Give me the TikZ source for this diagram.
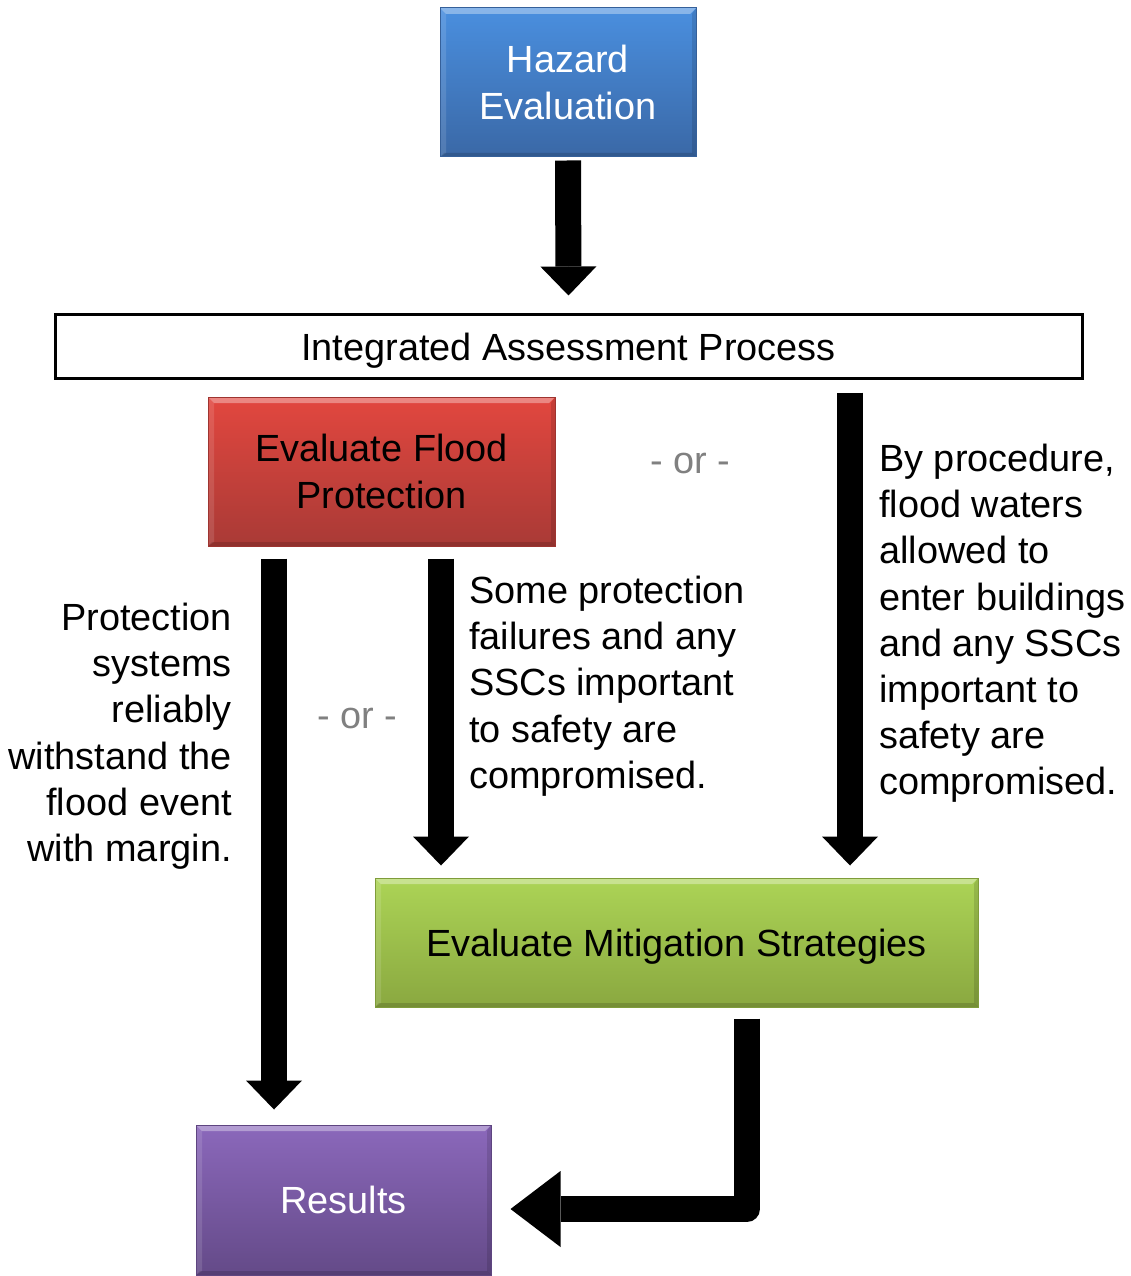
\documentclass[tikz,border=0pt]{standalone}
\usepackage{fontspec}
\setmainfont{Liberation Sans}
\usetikzlibrary{arrows.meta,calc}
\definecolor{bluetop}{HTML}{4A8FDF}
\definecolor{bluebot}{HTML}{3A68A6}
\definecolor{blueedge}{HTML}{35609A}
\definecolor{redtop}{HTML}{E2473F}
\definecolor{redbot}{HTML}{A93A36}
\definecolor{rededge}{HTML}{9E3430}
\definecolor{greentop}{HTML}{ACD456}
\definecolor{greenbot}{HTML}{8AA840}
\definecolor{greenedge}{HTML}{7F9C3A}
\definecolor{purptop}{HTML}{8B68BB}
\definecolor{purpbot}{HTML}{644A88}
\definecolor{purpedge}{HTML}{5E4580}
\definecolor{orgray}{HTML}{808080}
\tikzset{
  txt/.style={font=\fontsize{28.4}{34.6}\selectfont, inner sep=0pt},
  bevel/.style={path picture={
    \coordinate (bnw) at (path picture bounding box.north west);
    \coordinate (bne) at (path picture bounding box.north east);
    \coordinate (bsw) at (path picture bounding box.south west);
    \coordinate (bse) at (path picture bounding box.south east);
    \fill[white,opacity=0.35] (bnw) -- (bne) -- ($(bne)+(-6,6)$) -- ($(bnw)+(6,6)$) -- cycle;
    \fill[white,opacity=0.12] (bnw) -- ($(bnw)+(6,6)$) -- ($(bsw)+(6,-4)$) -- (bsw) -- cycle;
    \fill[black,opacity=0.15] (bsw) -- (bse) -- ($(bse)+(-4,-4)$) -- ($(bsw)+(4,-4)$) -- cycle;
    \fill[black,opacity=0.12] (bne) -- (bse) -- ($(bse)+(-4,-4)$) -- ($(bne)+(-4,6)$) -- cycle;
  }},
  colbox/.style={txt, rectangle, align=center, line width=0.75pt, bevel},
  bluebox/.style={colbox, top color=bluetop, bottom color=bluebot, draw=blueedge, text=white},
  redbox/.style={colbox, top color=redtop, bottom color=redbot, draw=rededge, text=black},
  greenbox/.style={colbox, top color=greentop, bottom color=greenbot, draw=greenedge, text=black},
  purpbox/.style={colbox, top color=purptop, bottom color=purpbot, draw=purpedge, text=white},
  bigarrow/.style={line width=19.5pt, line cap=butt, -{Triangle[length=21.75pt,width=42pt,line width=0pt]}},
  bentarrow/.style={line width=19.5pt, line cap=butt, line join=round, -{Triangle[length=37.5pt,width=57pt,line width=0pt]}},
  ortxt/.style={txt, text=orgray},
}
\begin{document}
\begin{tikzpicture}[x=0.75pt,y=-0.75pt]
\useasboundingbox (0,0) rectangle (1130,1276);
% boxes
\node[bluebox, minimum width=192pt, minimum height=111.75pt] (haz) at (568,82.5) {Hazard\\Evaluation};
\node[txt, draw=black, line width=2.25pt, minimum width=770.25pt, minimum height=47.25pt, text depth=0pt] (iap) at (568.5,346.5) {Integrated Assessment Process};
\node[redbox, minimum width=260.25pt, minimum height=111.75pt] (flood) at (381.5,471.5) {Evaluate Flood\\Protection};
\node[greenbox, minimum width=452.25pt, minimum height=96.75pt, text depth=0pt] (mit) at (676.5,942.5) {Evaluate Mitigation Strategies};
\node[purpbox, minimum width=221.25pt, minimum height=112.5pt] (res) at (343.5,1200) {Results};
% labels
\node[txt, anchor=north east, align=right] (lefttxt) at (232,603) {Protection\\systems\\reliably\\withstand the\\flood event\\with margin.};
\node[txt, anchor=north west, align=left] (midtxt) at (469,576) {Some protection\\failures and any\\SSCs important\\to safety are\\compromised.};
\node[txt, anchor=north west, align=left] (righttxt) at (879,444) {By procedure,\\flood waters\\allowed to\\enter buildings\\and any SSCs\\important to\\safety are\\compromised.};
\node[ortxt] (or1) at (690,463) {- or -};
\node[ortxt] (or2) at (357,718) {- or -};
% arrows
\draw[bigarrow] ($(haz.south)+(0,3)$) -- ($(iap.north)+(0,-18)$);
\draw[bigarrow] ($(flood.south)+(-107.5,12)$) -- ($(res.north)+(-69.5,-15)$);
\draw[bigarrow] ($(flood.south)+(59.5,12)$) -- ($(mit.north)+(-235.5,-12)$);
\draw[bigarrow] ($(iap.south)+(281.5,13)$) -- ($(mit.north)+(173.5,-12)$);
\coordinate (bendtip) at ($(res.east)+(19,9)$);
\draw[bentarrow] ($(mit.south)+(70.5,11)$) |- (bendtip);
\end{tikzpicture}
\end{document}
